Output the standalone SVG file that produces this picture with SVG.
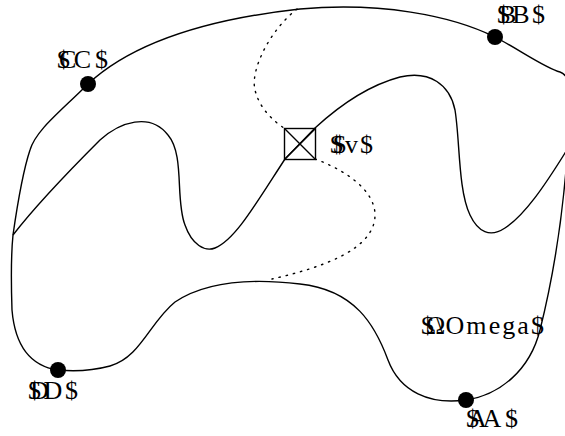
<svg xmlns="http://www.w3.org/2000/svg" width="565" height="436" viewBox="0 0 565 436">
<style>
.curve{fill:none;stroke:#000;stroke-width:1.4}
.dot{fill:none;stroke:#000;stroke-width:1.4;stroke-dasharray:1.4 6;stroke-linecap:round}
.pt{fill:#000}
.lbl{font-family:"Liberation Serif","Times New Roman",serif;font-size:26px;fill:#000}
.ghost{font-family:"Liberation Serif","Times New Roman",serif;font-size:26px;fill:#000}
.box{fill:none;stroke:#000;stroke-width:1.4}
</style>
<rect width="565" height="436" fill="#fff"/>
<g id="connectors">
<path class="curve" d="M 13,235 C 18,200 25,165 30,150 C 36,130 60,112 88,84 C 130,45 200,20 300,9 C 380,2 450,15 495,37 C 520,50 545,68 560,72 C 574,76 574,110 566,170 C 560,240 550,290 540,330 C 530,370 500,395 466,400 C 430,405 400,392 388,360 C 375,325 355,290 300,284 C 250,278 205,282 175,302 C 150,322 140,358 110,366 C 95,370 78,372 58,370 C 30,366 15,345 12,310 C 11,280 11,255 13,235 Z"/>
<path class="curve" d="M 13,235 C 40,200 80,160 100,140 C 120,122 150,112 168,135 C 185,155 175,200 185,225 C 192,245 205,252 215,248 C 235,240 255,205 285,159 L 315,128 C 340,105 370,85 400,77 C 430,70 450,85 455,110 C 460,140 458,190 470,215 C 478,232 490,238 505,228 C 525,215 545,185 565,153 L 575,140"/>
<path class="dot" d="M 297,9 C 270,30 250,70 255,90 C 260,110 275,122 284,128"/>
<path class="dot" d="M 315,159 C 345,170 375,190 375,215 C 375,250 320,268 272,279"/>
</g>
<g id="node-v">
<rect class="box" x="284.5" y="128.5" width="31" height="31"/>
<path class="box" d="M 284.5,128.5 L 315.5,159.5 M 284.5,159.5 L 315.5,128.5"/>
<text class="ghost" x="333" y="153">$</text>
<text class="lbl" x="330" y="153" textLength="43" lengthAdjust="spacing">$v$</text>
</g>
<g id="node-B">
<circle class="pt" cx="495" cy="37" r="8"/>
<text class="ghost" x="499" y="23">B</text>
<text class="lbl" x="497" y="23" textLength="48" lengthAdjust="spacing">$B$</text>
</g>
<g id="node-C">
<circle class="pt" cx="88" cy="84" r="8"/>
<text class="ghost" x="59" y="68">C</text>
<text class="lbl" x="57" y="68" textLength="51" lengthAdjust="spacing">$C$</text>
</g>
<g id="node-D">
<circle class="pt" cx="58" cy="370" r="8"/>
<text class="ghost" x="30" y="399">D</text>
<text class="lbl" x="28" y="399" textLength="50" lengthAdjust="spacing">$D$</text>
</g>
<g id="node-A">
<circle class="pt" cx="466" cy="400" r="8"/>
<text class="ghost" x="468" y="427">A</text>
<text class="lbl" x="466" y="427" textLength="52" lengthAdjust="spacing">$A$</text>
</g>
<g id="label-Omega">
<text class="ghost" x="426" y="334">Ω</text>
<text class="lbl" x="421" y="334" textLength="123" lengthAdjust="spacing">$\Omega$</text>
</g>
</svg>
